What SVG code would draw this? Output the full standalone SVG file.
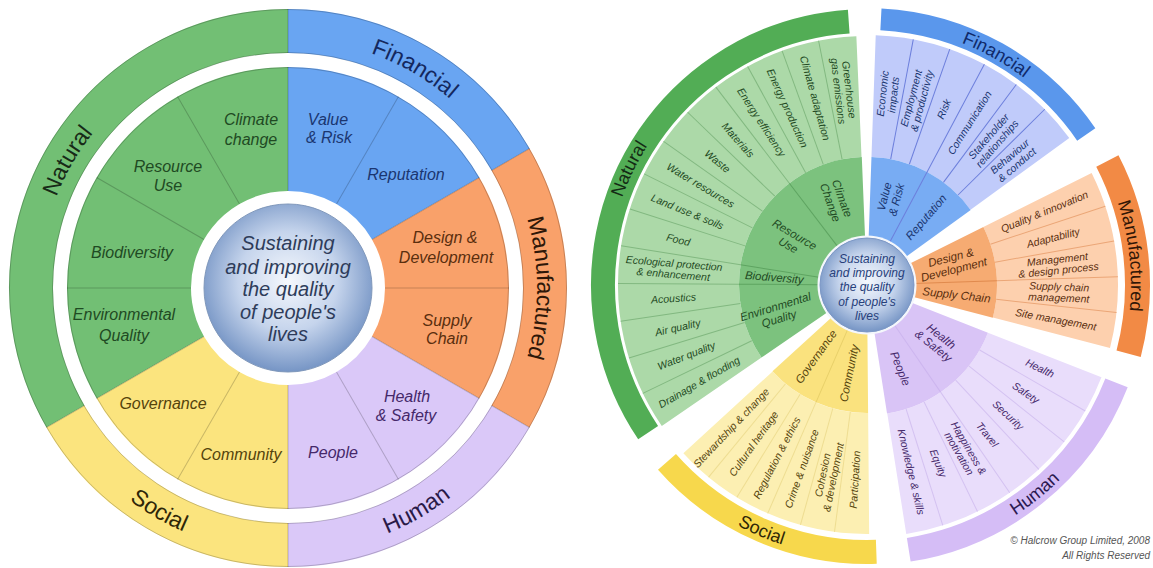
<svg xmlns="http://www.w3.org/2000/svg" width="1153" height="568" viewBox="0 0 1153 568">
<style>
text{font-family:"Liberation Sans",Arial,sans-serif;text-anchor:middle}
.a{fill:none}
.ol{font-size:23px}
.il{font-size:16px;font-style:italic}
.ct{font-size:20px;font-style:italic;fill:#2e3c5a}
.rc{font-size:12px;font-style:italic;fill:#27407a}
.it{font-size:10.5px;font-style:italic}
.ir{font-size:11.5px;font-style:italic}
.bl{font-size:18px}
.cp{font-size:10px;font-style:italic;fill:#555;text-anchor:end}
.tg{fill:#1f4a23}.tb{fill:#1b3670}.to{fill:#5a2e0e}.tp{fill:#45286a}.ty{fill:#54430c}
</style>
<defs>
<radialGradient id="cg" cx="50%" cy="46%" r="54%">
<stop offset="0" stop-color="#f5f8fd"/><stop offset="0.55" stop-color="#c5d4ec"/><stop offset="1" stop-color="#7695c5"/>
</radialGradient>
<path id="pLnat" d="M72.4,412.5 A249,249 0 0 1 288,39"/>
<path id="pLfin" d="M163.5,72.4 A249,249 0 0 1 537,288"/>
<path id="pLman" d="M412.5,72.4 A249,249 0 0 1 412.5,503.6"/>
<path id="pLhum" d="M155.5,517.5 A265,265 0 0 0 553,288"/>
<path id="pLsoc" d="M23,288 A265,265 0 0 0 420.5,517.5"/>
<path id="pRnat" d="M651.5,430.4 A260,260 0 0 1 848.9,25.6"/>
<path id="pRfin" d="M734.1,61.6 A260,260 0 0 1 1127,281.6"/>
<path id="pRman" d="M973.1,43.3 A264,264 0 0 1 1023.3,497.8"/>
<path id="pRhum" d="M767.9,540.5 A274,274 0 0 0 1137.8,243.1"/>
<path id="pRsoc" d="M595.9,317.3 A273,273 0 0 0 1030.5,503.6"/>
</defs>

<!-- LEFT WHEEL -->
<g id="L-natural">
<circle class="a" r="257" stroke="#72bf74" stroke-width="44" stroke-dasharray="538.3 2000" transform="translate(288 288) rotate(150)"/>
<circle class="a" r="159" stroke="#72bf74" stroke-width="124" stroke-dasharray="333 2000" transform="translate(288 288) rotate(150)"/>
<text class="ol" fill="#172a17"><textPath href="#pLnat" startOffset="50%">Natural</textPath></text>
<text class="il tg" x="251" y="124.5">Climate</text><text class="il tg" x="251" y="144.5">change</text>
<text class="il tg" x="168" y="171.5">Resource</text><text class="il tg" x="168" y="190.5">Use</text>
<text class="il tg" x="132" y="257.5">Biodiversity</text>
<text class="il tg" x="124" y="320">Environmental</text><text class="il tg" x="124" y="340.5">Quality</text>
</g>
<g id="L-financial">
<circle class="a" r="257" stroke="#69a5f2" stroke-width="44" stroke-dasharray="269.1 2000" transform="translate(288 288) rotate(-90)"/>
<circle class="a" r="159" stroke="#69a5f2" stroke-width="124" stroke-dasharray="166.5 2000" transform="translate(288 288) rotate(-90)"/>
<text class="ol" fill="#14285e"><textPath href="#pLfin" startOffset="50%">Financial</textPath></text>
<text class="il tb" x="328" y="125">Value</text><text class="il tb" x="329" y="143">&amp; Risk</text>
<text class="il tb" x="406" y="179.5">Reputation</text>
</g>
<g id="L-manufactured">
<circle class="a" r="257" stroke="#f9a16a" stroke-width="44" stroke-dasharray="269.1 2000" transform="translate(288 288) rotate(-30)"/>
<circle class="a" r="159" stroke="#f9a16a" stroke-width="124" stroke-dasharray="166.5 2000" transform="translate(288 288) rotate(-30)"/>
<text class="ol" fill="#2e1708"><textPath href="#pLman" startOffset="50%">Manufactured</textPath></text>
<text class="il to" x="445" y="243">Design &amp;</text><text class="il to" x="446" y="262.5">Development</text>
<text class="il to" x="447" y="325.5">Supply</text><text class="il to" x="447" y="344">Chain</text>
</g>
<g id="L-human">
<circle class="a" r="257" stroke="#dac8f8" stroke-width="44" stroke-dasharray="269.1 2000" transform="translate(288 288) rotate(30)"/>
<circle class="a" r="159" stroke="#dac8f8" stroke-width="124" stroke-dasharray="166.5 2000" transform="translate(288 288) rotate(30)"/>
<text class="ol" fill="#2a1a48"><textPath href="#pLhum" startOffset="50%">Human</textPath></text>
<text class="il tp" x="407" y="401.5">Health</text><text class="il tp" x="406" y="420.5">&amp; Safety</text>
<text class="il tp" x="333" y="457.5">People</text>
</g>
<g id="L-social">
<circle class="a" r="257" stroke="#fbe47e" stroke-width="44" stroke-dasharray="269.1 2000" transform="translate(288 288) rotate(90)"/>
<circle class="a" r="159" stroke="#fbe47e" stroke-width="124" stroke-dasharray="166.5 2000" transform="translate(288 288) rotate(90)"/>
<text class="ol" fill="#2e2608"><textPath href="#pLsoc" startOffset="50%">Social</textPath></text>
<text class="il ty" x="163" y="408.5">Governance</text>
<text class="il ty" x="241" y="460">Community</text>
</g>
<g id="L-lines" transform="translate(288 288)" stroke="#000" stroke-opacity="0.2" stroke-width="1" fill="none">
<circle r="278.5"/><circle r="235.5"/><circle r="220.5"/>
<line y1="-235" y2="-279"/><line y1="-235" y2="-279" transform="rotate(60)"/><line y1="-235" y2="-279" transform="rotate(120)"/><line y1="-235" y2="-279" transform="rotate(180)"/><line y1="-235" y2="-279" transform="rotate(240)"/>
<line y1="-97" y2="-221"/><line y1="-97" y2="-221" transform="rotate(30)"/><line y1="-97" y2="-221" transform="rotate(60)"/><line y1="-97" y2="-221" transform="rotate(90)"/><line y1="-97" y2="-221" transform="rotate(120)"/><line y1="-97" y2="-221" transform="rotate(150)"/><line y1="-97" y2="-221" transform="rotate(180)"/><line y1="-97" y2="-221" transform="rotate(210)"/><line y1="-97" y2="-221" transform="rotate(240)"/><line y1="-97" y2="-221" transform="rotate(270)"/><line y1="-97" y2="-221" transform="rotate(300)"/><line y1="-97" y2="-221" transform="rotate(330)"/>
</g>
<g id="L-centre">
<circle cx="288" cy="288" r="84" fill="url(#cg)" stroke="#8098bb" stroke-width="1"/>
<text class="ct" x="288" y="250">Sustaining</text>
<text class="ct" x="288" y="273.5">and improving</text>
<text class="ct" x="288" y="296">the quality</text>
<text class="ct" x="288" y="318.5">of people's</text>
<text class="ct" x="288" y="341">lives</text>
</g>

<!-- RIGHT WHEEL -->
<g id="R-natural">
<circle class="a" r="264" stroke="#52ad55" stroke-width="24" stroke-dasharray="552.9 2000" transform="translate(867 285) rotate(146)"/>
<circle class="a" r="188.5" stroke="#acd9a8" stroke-width="121" stroke-dasharray="401.4 2000" transform="translate(867 285) rotate(145.5)"/>
<circle class="a" r="86" stroke="#7cc27e" stroke-width="84" stroke-dasharray="183.1 2000" transform="translate(867 285) rotate(145.5)"/>
<g transform="translate(867 285)" fill="none" stroke-width="1">
<g stroke="#82b880">
<line y1="-128" y2="-249" transform="rotate(-11.21)"/><line y1="-128" y2="-249" transform="rotate(-19.93)"/><line y1="-128" y2="-249" transform="rotate(-28.64)"/><line y1="-128" y2="-249" transform="rotate(-37.36)"/><line y1="-128" y2="-249" transform="rotate(-46.07)"/><line y1="-128" y2="-249" transform="rotate(-54.79)"/><line y1="-128" y2="-249" transform="rotate(-63.5)"/><line y1="-128" y2="-249" transform="rotate(-72.21)"/><line y1="-128" y2="-249" transform="rotate(-80.93)"/><line y1="-128" y2="-249" transform="rotate(-89.64)"/><line y1="-128" y2="-249" transform="rotate(-98.36)"/><line y1="-128" y2="-249" transform="rotate(-107.07)"/><line y1="-128" y2="-249" transform="rotate(-115.79)"/>
</g>
<g stroke="#5ea461">
<line y1="-47" y2="-128" transform="rotate(-37.36)"/><line y1="-47" y2="-128" transform="rotate(-80.93)"/><line y1="-47" y2="-128" transform="rotate(-89.64)"/>
</g>
</g>
<text class="bl" fill="#132a14"><textPath href="#pRnat" startOffset="50%">Natural</textPath></text>
<g transform="translate(867 285)">
<text class="it tg" transform="rotate(-6.86) translate(0,-196) rotate(90)"><tspan x="0" dy="-2">Greenhouse</tspan><tspan x="0" dy="11">gas emissions</tspan></text>
<text class="it tg" transform="rotate(-15.57) translate(0,-194) rotate(90)" dy="3.5">Climate adaptation</text>
<text class="it tg" transform="rotate(-24.29) translate(0,-194) rotate(90)" dy="3.5">Energy production</text>
<text class="it tg" transform="rotate(-33) translate(0,-194) rotate(90)" dy="3.5">Energy efficiency</text>
<text class="it tg" transform="rotate(-41.71) translate(0,-194) rotate(90)" dy="3.5">Materials</text>
<text class="it tg" transform="rotate(-50.43) translate(0,-194) rotate(90)" dy="3.5">Waste</text>
<text class="it tg" transform="rotate(-59.14) translate(0,-194) rotate(90)" dy="3.5">Water resources</text>
<text class="it tg" transform="rotate(-67.86) translate(0,-194) rotate(90)" dy="3.5">Land use &amp; soils</text>
<text class="it tg" transform="rotate(-76.57) translate(0,-194) rotate(90)" dy="3.5">Food</text>
<text class="it tg" transform="rotate(-85.29) translate(0,-194) rotate(90)"><tspan x="0" dy="-2">Ecological protection</tspan><tspan x="0" dy="11">&amp; enhancement</tspan></text>
<text class="it tg" transform="rotate(-94) translate(0,-194) rotate(90)" dy="3.5">Acoustics</text>
<text class="it tg" transform="rotate(-102.71) translate(0,-194) rotate(90)" dy="3.5">Air quality</text>
<text class="it tg" transform="rotate(-111.43) translate(0,-194) rotate(90)" dy="3.5">Water quality</text>
<text class="it tg" transform="rotate(-120.14) translate(0,-194) rotate(90)" dy="3.5">Drainage &amp; flooding</text>
<text class="ir tg" transform="rotate(-19.9) translate(0,-90) rotate(90)"><tspan x="0" dy="-2.2">Climate</tspan><tspan x="0" dy="12.5">Change</tspan></text>
<text class="ir tg" transform="rotate(-59.1) translate(0,-88) rotate(90)"><tspan x="0" dy="-2.2">Resource</tspan><tspan x="0" dy="12.5">Use</tspan></text>
<text class="ir tg" transform="rotate(-85.3) translate(0,-93) rotate(90)" dy="4">Biodiversity</text>
<text class="ir tg" transform="rotate(-107.1) translate(0,-94) rotate(90)"><tspan x="0" dy="-2.2">Environmental</tspan><tspan x="0" dy="12.5">Quality</tspan></text>
</g>
</g>

<g id="R-financial">
<circle class="a" r="266" stroke="#5a97ec" stroke-width="22" stroke-dasharray="243.7 2000" transform="translate(867 285) rotate(-87)"/>
<circle class="a" r="189" stroke="#c0cbfa" stroke-width="122" stroke-dasharray="171.5 2000" transform="translate(867 285) rotate(-88)"/>
<circle class="a" r="86" stroke="#78acf3" stroke-width="84" stroke-dasharray="78.05 2000" transform="translate(867 285) rotate(-88)"/>
<g transform="translate(867 285)" fill="none" stroke="#6c7fdc" stroke-width="1">
<line y1="-128" y2="-250" transform="rotate(10.67)"/><line y1="-128" y2="-250" transform="rotate(19.33)"/><line y1="-47" y2="-250" transform="rotate(28)"/><line y1="-128" y2="-250" transform="rotate(36.67)"/><line y1="-128" y2="-250" transform="rotate(45.33)"/>
</g>
<text class="bl" fill="#102a6a"><textPath href="#pRfin" startOffset="50%">Financial</textPath></text>
<g transform="translate(867 285)">
<text class="it tb" transform="rotate(6.33) translate(0,-192) rotate(-90)"><tspan x="0" dy="-2">Economic</tspan><tspan x="0" dy="11">impacts</tspan></text>
<text class="it tb" transform="rotate(15) translate(0,-192) rotate(-90)"><tspan x="0" dy="-2">Employment</tspan><tspan x="0" dy="11">&amp; productivity</tspan></text>
<text class="it tb" transform="rotate(23.67) translate(0,-192) rotate(-90)" dy="3.5">Risk</text>
<text class="it tb" transform="rotate(32.33) translate(0,-192) rotate(-90)" dy="3.5">Communication</text>
<text class="it tb" transform="rotate(41) translate(0,-192) rotate(-90)"><tspan x="0" dy="-2">Stakeholder</tspan><tspan x="0" dy="11">relationships</tspan></text>
<text class="it tb" transform="rotate(49.67) translate(0,-192) rotate(-90)"><tspan x="0" dy="-2">Behaviour</tspan><tspan x="0" dy="11">&amp; conduct</tspan></text>
<text class="ir tb" transform="rotate(15) translate(0,-90) rotate(-90)"><tspan x="0" dy="-2.2">Value</tspan><tspan x="0" dy="12.5">&amp; Risk</tspan></text>
<text class="ir tb" transform="rotate(41) translate(0,-90) rotate(-90)" dy="4">Reputation</text>
</g>
</g>

<g id="R-manufactured">
<circle class="a" r="270.5" stroke="#f28a45" stroke-width="25" stroke-dasharray="198.3 2000" transform="translate(867 285) rotate(-27.3)"/>
<circle class="a" r="190.5" stroke="#fdd0ae" stroke-width="121" stroke-dasharray="136.3 2000" transform="translate(867 285) rotate(-26.5)"/>
<circle class="a" r="87" stroke="#f6ab72" stroke-width="86" stroke-dasharray="62.26 2000" transform="translate(867 285) rotate(-26.5)"/>
<g transform="translate(867 285)" fill="none" stroke-width="1">
<g stroke="#eba677"><line y1="-130" y2="-251" transform="rotate(71.7)"/><line y1="-130" y2="-251" transform="rotate(79.9)"/><line y1="-130" y2="-251" transform="rotate(88.1)"/><line y1="-130" y2="-251" transform="rotate(96.3)"/></g>
<line stroke="#e08a4e" y1="-47" y2="-130" transform="rotate(88.1)"/>
</g>
<text class="bl" fill="#301606"><textPath href="#pRman" startOffset="50%">Manufactured</textPath></text>
<g transform="translate(867 285)">
<text class="it to" transform="rotate(67.6) translate(0,-192) rotate(-90)" dy="3.5">Quality &amp; innovation</text>
<text class="it to" transform="rotate(75.8) translate(0,-192) rotate(-90)" dy="3.5">Adaptability</text>
<text class="it to" transform="rotate(84) translate(0,-192) rotate(-90)"><tspan x="0" dy="-2">Management</tspan><tspan x="0" dy="11">&amp; design process</tspan></text>
<text class="it to" transform="rotate(92.2) translate(0,-192) rotate(-90)"><tspan x="0" dy="-2">Supply chain</tspan><tspan x="0" dy="11">management</tspan></text>
<text class="it to" transform="rotate(100.4) translate(0,-192) rotate(-90)" dy="3.5">Site management</text>
<text class="ir to" transform="rotate(75.8) translate(0,-88) rotate(-90)"><tspan x="0" dy="-2.2">Design &amp;</tspan><tspan x="0" dy="12.5">Development</tspan></text>
<text class="ir to" transform="rotate(96.3) translate(0,-90) rotate(-90)" dy="4">Supply Chain</text>
</g>
</g>

<g id="R-human">
<circle class="a" r="268" stroke="#d5bdf6" stroke-width="24" stroke-dasharray="278.8 2000" transform="translate(867 285) rotate(21.4)"/>
<circle class="a" r="191" stroke="#e9ddfb" stroke-width="122" stroke-dasharray="198.35 2000" transform="translate(867 285) rotate(21.5)"/>
<circle class="a" r="87" stroke="#d9c4f6" stroke-width="86" stroke-dasharray="90.35 2000" transform="translate(867 285) rotate(21.5)"/>
<g transform="translate(867 285)" fill="none" stroke-width="1">
<g stroke="#d4c2f1"><line y1="-130" y2="-252" transform="rotate(120)"/><line y1="-130" y2="-252" transform="rotate(128.5)"/><line y1="-130" y2="-252" transform="rotate(137)"/><line y1="-130" y2="-252" transform="rotate(145.5)"/><line y1="-130" y2="-252" transform="rotate(154)"/><line y1="-130" y2="-252" transform="rotate(162.5)"/></g>
<line stroke="#cdb6ef" y1="-47" y2="-130" transform="rotate(145.5)"/>
</g>
<text class="bl" fill="#2a1850"><textPath href="#pRhum" startOffset="50%">Human</textPath></text>
<g transform="translate(867 285)">
<text class="it tp" transform="rotate(115.75) translate(0,-192) rotate(-90)" dy="3.5">Health</text>
<text class="it tp" transform="rotate(124.25) translate(0,-192) rotate(-90)" dy="3.5">Safety</text>
<text class="it tp" transform="rotate(132.75) translate(0,-192) rotate(-90)" dy="3.5">Security</text>
<text class="it tp" transform="rotate(141.25) translate(0,-192) rotate(-90)" dy="3.5">Travel</text>
<text class="it tp" transform="rotate(149.75) translate(0,-192) rotate(-90)"><tspan x="0" dy="-2">Happiness &amp;</tspan><tspan x="0" dy="11">motivation</tspan></text>
<text class="it tp" transform="rotate(158.25) translate(0,-192) rotate(-90)" dy="3.5">Equity</text>
<text class="it tp" transform="rotate(166.75) translate(0,-192) rotate(-90)" dy="3.5">Knowledge &amp; skills</text>
<text class="ir tp" transform="rotate(128.5) translate(0,-90) rotate(-90)"><tspan x="0" dy="-2.2">Health</tspan><tspan x="0" dy="12.5">&amp; Safety</tspan></text>
<text class="ir tp" transform="rotate(158.25) translate(0,-90) rotate(-90)" dy="4">People</text>
</g>
</g>

<g id="R-social">
<circle class="a" r="267" stroke="#f7d84c" stroke-width="24" stroke-dasharray="235.3 2000" transform="translate(867 285) rotate(88)"/>
<circle class="a" r="188.5" stroke="#fcefb2" stroke-width="121" stroke-dasharray="157.9 2000" transform="translate(867 285) rotate(89.5)"/>
<circle class="a" r="86" stroke="#fae27e" stroke-width="84" stroke-dasharray="72.05 2000" transform="translate(867 285) rotate(89.5)"/>
<g transform="translate(867 285)" fill="none" stroke-width="1">
<g stroke="#eedd92"><line y1="-128" y2="-249" transform="rotate(187.5)"/><line y1="-128" y2="-249" transform="rotate(195.5)"/><line y1="-128" y2="-249" transform="rotate(203.5)"/><line y1="-128" y2="-249" transform="rotate(211.5)"/><line y1="-128" y2="-249" transform="rotate(219.5)"/></g>
<line stroke="#e8d06a" y1="-47" y2="-128" transform="rotate(203.5)"/>
</g>
<text class="bl" fill="#2e2606"><textPath href="#pRsoc" startOffset="50%">Social</textPath></text>
<g transform="translate(867 285)">
<text class="it ty" transform="rotate(183.5) translate(0,-195) rotate(90)" dy="3.5">Participation</text>
<text class="it ty" transform="rotate(191.5) translate(0,-195) rotate(90)"><tspan x="0" dy="-2">Cohesion</tspan><tspan x="0" dy="11">&amp; development</tspan></text>
<text class="it ty" transform="rotate(199.5) translate(0,-195) rotate(90)" dy="3.5">Crime &amp; nuisance</text>
<text class="it ty" transform="rotate(207.5) translate(0,-195) rotate(90)" dy="3.5">Regulation &amp; ethics</text>
<text class="it ty" transform="rotate(215.5) translate(0,-195) rotate(90)" dy="3.5">Cultural heritage</text>
<text class="it ty" transform="rotate(223.5) translate(0,-197) rotate(90)" dy="3.5">Stewardship &amp; change</text>
<text class="ir ty" transform="rotate(215.5) translate(0,-88) rotate(90)" dy="4">Governance</text>
<text class="ir ty" transform="rotate(191.5) translate(0,-90) rotate(90)" dy="4">Community</text>
</g>
</g>

<g id="R-centre">
<circle cx="867" cy="285" r="49.5" fill="#f4f7fc"/>
<circle cx="867" cy="285" r="47" fill="url(#cg)" stroke="#7d98c6" stroke-width="1"/>
<text class="rc" x="867" y="263">Sustaining</text>
<text class="rc" x="867" y="277">and improving</text>
<text class="rc" x="867" y="291">the quality</text>
<text class="rc" x="867" y="305.5">of people's</text>
<text class="rc" x="867" y="319.5">lives</text>
</g>

<g id="copyright">
<text class="cp" x="1150" y="544">© Halcrow Group Limited, 2008</text>
<text class="cp" x="1150" y="559">All Rights Reserved</text>
</g>
</svg>
